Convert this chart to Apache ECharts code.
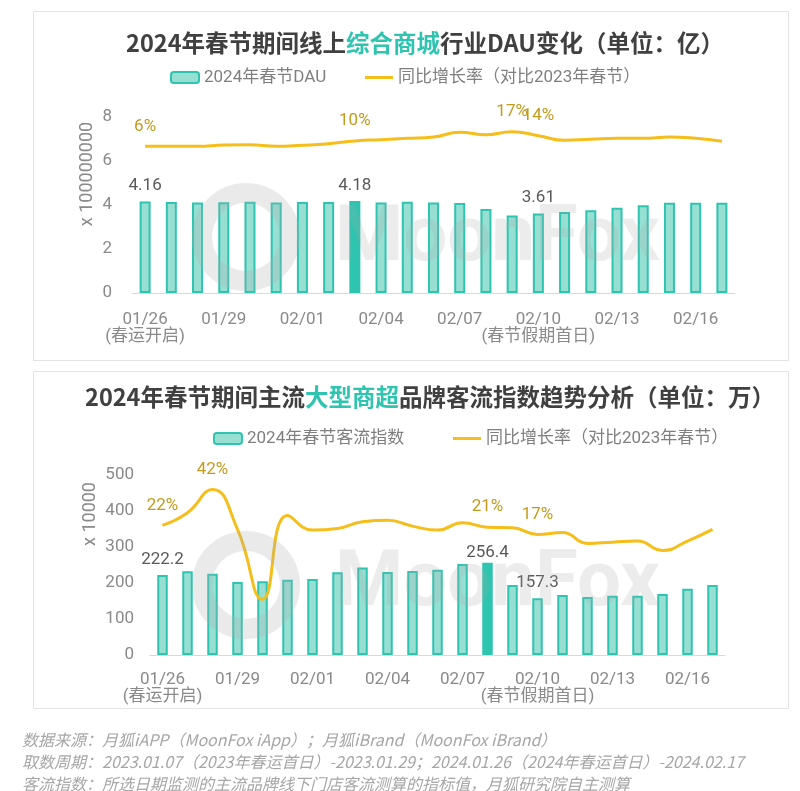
<!DOCTYPE html>
<html><head><meta charset="utf-8">
<script src="https://cdn.jsdelivr.net/npm/echarts@6/dist/echarts.min.js"></script>
<style>html,body{margin:0;padding:0;background:#fff}#c{width:800px;height:791px}</style>
</head><body><div id="c"></div>
<script>
const categories = ['01/26','01/27','01/28','01/29','01/30','01/31','02/01','02/02','02/03','02/04','02/05','02/06','02/07','02/08','02/09','02/10','02/11','02/12','02/13','02/14','02/15','02/16','02/17'];
const axisNotes = {0:'(春运开启)', 15:'(春节假期首日)'};
// Top chart: DAU (亿) and YoY growth (%)
const dau = [4.16,4.14,4.11,4.12,4.15,4.11,4.14,4.14,4.18,4.11,4.15,4.11,4.09,3.82,3.52,3.61,3.68,3.76,3.88,3.99,4.10,4.10,4.10];
const dauGrowth = [6,6,6,7,7.2,6,6.8,8,10,11,12,13,16.5,14.7,17,14,10.5,11.3,12,12,13,12,9.8];
const dauBarLabels = [0,8,15];
const dauLineLabels = [0,8,14,15];
const dauHighlight = 8;
// Bottom chart: traffic index (万) and YoY growth (%)
const traffic = [222.2,232.3,225.9,202.7,204.6,209.2,211,229.6,243.4,230.5,233.3,237,252.7,256.4,194.4,157.3,166.6,161,164.7,164.7,169.4,184.2,194.4];
const trafficGrowth = [22,29,42,19.8,-19,27.5,19.4,20.3,24,24.8,21.6,19.4,23.5,21,20.7,17,18.1,12,12.7,13.3,8.1,13.3,19.8];
const trafficBarLabels = [0,13,15];
const trafficLineLabels = [0,2,13,15];
const trafficHighlight = 13;
const yTicksTop = {min:0,max:8,interval:2};
const yTicksBottom = {min:0,max:500,interval:100};

const FONT = 'Roboto, "Noto Sans CJK SC", sans-serif';
const CJK = '"Noto Sans CJK SC", sans-serif';
const TEAL = '#2EC4B0', FILL = '#97dfd3', GOLD = '#F5BE1B', GOLDTXT = '#C49A1C';
const GREY = '#8a8a8a';
const LINE_NAME = '同比增长率（对比2023年春节）';

function barData(vals, lbls, hi){
  return vals.map((v,i)=>{
    const o = {value:v};
    if (lbls.includes(i)) o.label = {show:true, distance: (i===hi && hi===13)? 1 : 7};
    if (i===hi) o.itemStyle = {color:TEAL};
    return o;
  });
}
function lineData(vals, lbls){
  return vals.map((v,i)=> lbls.includes(i) ? {value:v, label:{show:true}} : v);
}
function xAxisFor(g){
  return {type:'category', gridIndex:g, data:categories,
    axisLine:{lineStyle:{color:'#d9d9d9', width:1}}, axisTick:{show:false},
    axisLabel:{interval:2, color:GREY, fontSize:17, fontFamily:FONT, lineHeight:17, margin: g===0?18:16,
      formatter:(v,i)=> axisNotes[i] ? v+'\n'+axisNotes[i] : v}};
}
function yAxisFor(g, t, margin){
  return {type:'value', gridIndex:g, min:t.min, max:t.max, interval:t.interval,
    axisLine:{show:false}, axisTick:{show:false}, splitLine:{show:false},
    axisLabel:{color:GREY, fontSize:17, fontFamily:FONT, margin:margin}};
}
const barLabel = {show:false, position:'top', color:'#595959', fontSize:17, fontFamily:FONT};
const lineLabel = {show:false, position:'top', distance:11, color:GOLDTXT, fontSize:17, fontFamily:FONT, formatter:'{c}%'};
const legendText = {color:'#7f7f7f', fontSize:17, fontFamily:FONT};

function watermark(cx, cy, tx, ty){
  return [
    {type:'circle', shape:{cx:cx, cy:cy, r:44}, style:{fill:'none', stroke:'rgba(170,170,170,0.25)', lineWidth:20}, z:100, silent:true},
    {type:'text', x:tx, y:ty, style:{text:'MoonFox', font:'bold 78px '+FONT, fill:'rgba(170,170,170,0.22)', align:'left', verticalAlign:'middle'}, z:100, silent:true}
  ];
}
function lineSeries(xi, yi, vals, lbls){
  return {name:LINE_NAME, type:'line', xAxisIndex:xi, yAxisIndex:yi, smooth:true,
    symbol:'circle', symbolSize:1, showSymbol:true,
    lineStyle:{color:GOLD, width:3}, itemStyle:{color:'rgba(0,0,0,0)'}, label:lineLabel, z:5,
    data:lineData(vals, lbls)};
}

const chart = echarts.init(document.getElementById('c'), null, {renderer:'canvas'});
chart.setOption({
  animation:false,
  backgroundColor:'#fff',
  grid:[
    {left:132, right:65, top:117, bottom:498},
    {left:150, right:75, top:475, bottom:136}
  ],
  legend:[
    {left:170, top:69, itemWidth:28, itemHeight:11, padding:0, textStyle:legendText, data:['2024年春节DAU']},
    {left:365, top:69, itemWidth:28, itemHeight:3, padding:0, textStyle:legendText, icon:'rect', itemStyle:{color:GOLD}, data:[LINE_NAME]},
    {left:213, top:430, itemWidth:28, itemHeight:11, padding:0, textStyle:legendText, data:['2024年春节客流指数']},
    {left:453, top:430, itemWidth:28, itemHeight:3, padding:0, textStyle:legendText, icon:'rect', itemStyle:{color:GOLD}, data:[LINE_NAME]}
  ],
  xAxis:[xAxisFor(0), xAxisFor(1)],
  yAxis:[
    yAxisFor(0, yTicksTop, 20),
    {type:'value', gridIndex:0, min:-104, max:28, show:false},
    yAxisFor(1, yTicksBottom, 16),
    {type:'value', gridIndex:1, min:-50, max:50, show:false}
  ],
  series:[
    {name:'2024年春节DAU', type:'bar', xAxisIndex:0, yAxisIndex:0, barWidth:'42%',
     itemStyle:{color:FILL, borderColor:TEAL, borderWidth:2}, label:barLabel,
     data:barData(dau, dauBarLabels, dauHighlight)},
    lineSeries(0, 1, dauGrowth, dauLineLabels),
    {name:'2024年春节客流指数', type:'bar', xAxisIndex:1, yAxisIndex:2, barWidth:'42%',
     itemStyle:{color:FILL, borderColor:TEAL, borderWidth:2}, label:barLabel,
     data:barData(traffic, trafficBarLabels, trafficHighlight)},
    lineSeries(1, 3, trafficGrowth, trafficLineLabels)
  ],
  graphic:[
    {type:'rect', shape:{x:33.5, y:11.5, width:755, height:349}, style:{fill:'none', stroke:'#e3e3e3', lineWidth:1}, z:-10, silent:true},
    {type:'rect', shape:{x:33.5, y:371.5, width:755, height:337}, style:{fill:'none', stroke:'#e3e3e3', lineWidth:1}, z:-10, silent:true},
    {type:'text', x:425, y:43, style:{text:'2024年春节期间线上{t|综合商城}行业DAU变化（单位：亿）', font:'bold 23.5px '+CJK, fill:'#404040', align:'center', verticalAlign:'middle',
      rich:{t:{fill:TEAL, font:'bold 23.5px '+CJK}}}},
    {type:'text', x:430, y:397, style:{text:'2024年春节期间主流{t|大型商超}品牌客流指数趋势分析（单位：万）', font:'bold 23.5px '+CJK, fill:'#404040', align:'center', verticalAlign:'middle',
      rich:{t:{fill:TEAL, font:'bold 23.5px '+CJK}}}},
    {type:'text', x:87, y:174, rotation:Math.PI/2, style:{text:'x 100000000', font:'18px '+FONT, fill:GREY, align:'center', verticalAlign:'middle'}},
    {type:'text', x:90, y:514, rotation:Math.PI/2, style:{text:'x 10000', font:'18px '+FONT, fill:GREY, align:'center', verticalAlign:'middle'}},
    {type:'text', x:22, y:740, style:{text:'数据来源：月狐iAPP（MoonFox iApp）；月狐iBrand（MoonFox iBrand）', font:'italic 16px '+CJK, fill:'#a6a6a6', verticalAlign:'middle'}},
    {type:'text', x:22, y:762, style:{text:'取数周期：2023.01.07（2023年春运首日）-2023.01.29；2024.01.26（2024年春运首日）-2024.02.17', font:'italic 16px '+CJK, fill:'#a6a6a6', verticalAlign:'middle'}},
    {type:'text', x:22, y:784, style:{text:'客流指数：所选日期监测的主流品牌线下门店客流测算的指标值，月狐研究院自主测算', font:'italic 16px '+CJK, fill:'#a6a6a6', verticalAlign:'middle'}}
  ].concat(watermark(246, 237, 335, 240)).concat(watermark(246, 585, 335, 585))
});
</script></body></html>
